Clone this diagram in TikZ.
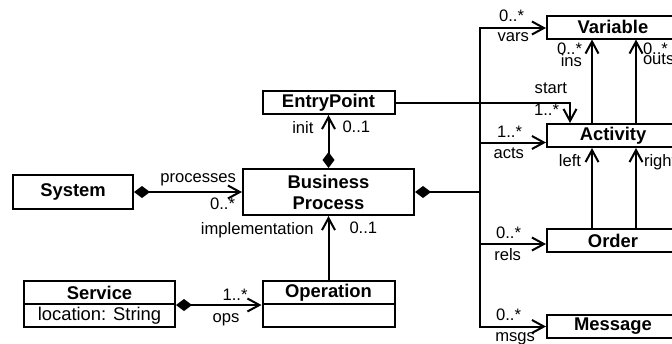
\documentclass[tikz,border=0pt]{standalone}
\usepackage{fontspec}
\setmainfont{Liberation Sans}
\usetikzlibrary{arrows.meta}
\tikzstyle{cls} = [draw, rectangle, line width=1pt, inner sep=0pt,
    minimum height=11.5pt, minimum width=66pt,
    font=\fontsize{9.2}{10.5}\selectfont\bfseries]
\tikzstyle{attr} = [cls, font=\fontsize{9.2}{10.5}\selectfont]
\tikzstyle{lbl} = [inner sep=1pt, font=\fontsize{8.3}{10}\selectfont]
\tikzstyle{assoc} = [draw, line width=1pt, -{Straight Barb[length=6pt,width=6.5pt]}]
\tikzstyle{comp} = [assoc, {Diamond[length=8pt,width=6pt]}-{Straight Barb[length=6pt,width=6.5pt]}]
\tikzstyle{owns} = [draw, line width=1pt, {Diamond[length=8pt,width=6pt]}-]

\begin{document}
\begin{tikzpicture}[x=0.5pt, y=-0.5pt]
        \useasboundingbox (0,0) rectangle (672,343);
        \clip (0,0) rectangle (672,343);

        % We start by placing the classes
        \node [cls, align=center, minimum width=85.5pt, minimum height=23pt] (bp) at (328.5,192) {Business\\Process};
        \node [cls, above of=bp, node distance=44.75pt] (ep) {EntryPoint};
        \node [cls, below of=bp, node distance=50.25pt] (op) {Operation};
        \node [attr, below of=op, node distance=11.5pt] (opattr) {};
        \node [cls, left of=bp, node distance=127.75pt, minimum width=60pt, minimum height=17pt] (sys) {System};
        \node [cls, left of=op, node distance=114.5pt, minimum width=75.5pt] (srv) {Service};
        \node [attr, below of=srv, node distance=11.5pt, minimum width=75.5pt] (srvattr) {location: String};

        \node [cls] (act) at (613,135.5) {Activity};
        \node [cls, above of=act, node distance=54.25pt] (var) {Variable};
        \node [cls, below of=act, node distance=52.5pt] (ord) {Order};
        \node [cls, below of=ord, node distance=43pt] (msg) {Message};
        \coordinate (bus) at (480,192);

        % Once the classes are placed, the associations follow.
        \draw [comp] (sys.east) -- node [lbl, pos=1, anchor=south east, xshift=-1.5pt, yshift=1.5pt] {processes}
            node [lbl, pos=1, anchor=north east, xshift=-2pt, yshift=-1.5pt] {0..*} (bp.west);
        \draw [comp] (bp.north) -- node [lbl, pos=1, anchor=north east, xshift=-6pt, yshift=-1.5pt] {init}
            node [lbl, pos=1, anchor=north west, xshift=5.5pt, yshift=-1.5pt] {0..1} (ep.south);
        \draw [assoc] (op.north) -- node [lbl, pos=1, anchor=north east, xshift=-6pt, yshift=-1.5pt] {implementation}
            node [lbl, pos=1, anchor=north west, xshift=9pt, yshift=-1.5pt] {0..1} (bp.south);
        \draw [comp] (srv.south east) -- node [lbl, pos=1, anchor=south east, xshift=-5.5pt, yshift=1pt] {1..*}
            node [lbl, pos=1, anchor=north east, xshift=-9.5pt, yshift=-3pt] {ops} (op.south west);

        \draw [owns] (bp.east) -- (bus);
        \draw [assoc] (bus) |- node [lbl, pos=1, anchor=south east, xshift=-9.5pt, yshift=1.5pt] {0..*}
            node [lbl, pos=1, anchor=north east, xshift=-7pt, yshift=-1pt] {vars} ([yshift=-0.5pt]var.west);
        \draw [assoc] (bus) |- node [lbl, pos=1, anchor=south east, xshift=-10.5pt, yshift=1pt] {1..*}
            node [lbl, pos=1, anchor=north east, xshift=-9.5pt, yshift=-1pt] {acts} ([yshift=-3.5pt]act.west);
        \draw [assoc] (bus) |- node [lbl, pos=1, anchor=south east, xshift=-11pt, yshift=1pt] {0..*}
            node [lbl, pos=1, anchor=north east, xshift=-11pt, yshift=-0.5pt] {rels} ([yshift=-1.75pt]ord.west);
        \draw [assoc] (bus) |- node [lbl, pos=1, anchor=south east, xshift=-11pt, yshift=1.5pt] {0..*}
            node [lbl, pos=1, anchor=north east, xshift=-4pt, yshift=-1.5pt] {msgs} (msg.west);

        \draw [assoc] (ep.east) -| node [lbl, pos=0.5, anchor=south east, yshift=3pt] {start}
            node [lbl, pos=1, anchor=south east, xshift=-4pt, yshift=2.5pt] {1..*} ([xshift=-21.5pt]act.north);
        \draw [assoc] ([xshift=-10.5pt]act.north) -- node [lbl, pos=1, anchor=north east, xshift=-3.5pt, yshift=0pt] {0..*}
            node [lbl, pos=1, anchor=north east, xshift=-3.5pt, yshift=-5.75pt] {ins} ([xshift=-10.5pt]var.south);
        \draw [assoc] ([xshift=11.5pt]act.north) -- node [lbl, pos=1, anchor=north west, xshift=2pt, yshift=0pt] {0..*}
            node [lbl, pos=1, anchor=north west, xshift=2pt, yshift=-5.75pt] {outs} ([xshift=11.5pt]var.south);
        \draw [assoc] ([xshift=-10.5pt]ord.north) -- node [lbl, pos=1, anchor=north east, xshift=-4pt, yshift=-1.5pt] {left}
            ([xshift=-10.5pt]act.south);
        \draw [assoc] ([xshift=11.5pt]ord.north) -- node [lbl, pos=1, anchor=north west, xshift=2.5pt, yshift=-1.5pt] {right}
            ([xshift=11.5pt]act.south);
\end{tikzpicture}
\end{document}
